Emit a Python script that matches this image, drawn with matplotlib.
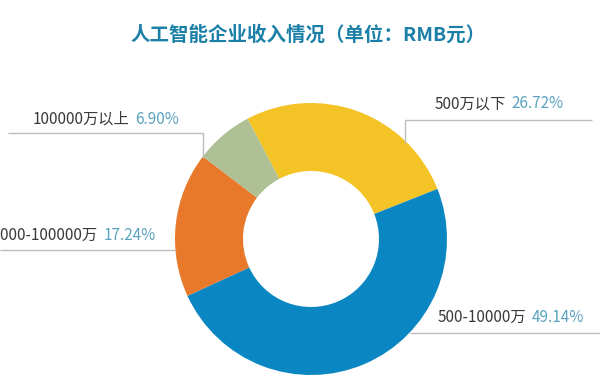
import matplotlib
matplotlib.use("Agg")
import matplotlib.pyplot as plt

plt.rcParams['font.family'] = ['Noto Sans CJK SC', 'DejaVu Sans']

title = "人工智能企业收入情况（单位：RMB元）"
categories = ["500万以下", "500-10000万", "10000-100000万", "100000万以上"]
shares = [26.72, 49.14, 17.24, 6.90]
colors = ["#F4C426", "#0A87C2", "#E8792B", "#AEC094"]

W, H = 600, 381
CX, CY, R = 311, 239, 136  # donut centre / radius in pixels

fig = plt.figure(figsize=(W / 100, H / 100), dpi=100)
ax = fig.add_axes([0, 0, 1, 1])

ax.pie(shares, colors=colors, startangle=117.8, counterclock=False,
       radius=1.0, wedgeprops=dict(width=0.5, edgecolor='none'))
ax.set_xlim(-CX / R, (W - CX) / R)
ax.set_ylim(-(H - CY) / R, CY / R)
ax.set_aspect('auto')
ax.axis('off')


def P(px, py):
    return ((px - CX) / R, (CY - py) / R)


line_kw = dict(color="#BDBDBD", lw=1.0, solid_capstyle='butt')

# leader lines (pixel paths)
paths = [
    [(405, 143), (405, 120), (592, 120)],
    [(410, 333), (600, 333)],
    [(176, 250), (0, 250)],
    [(203, 158), (203, 133), (8, 133)],
]
for path in paths:
    pts = [P(*p) for p in path]
    ax.plot([p[0] for p in pts], [p[1] for p in pts], **line_kw)

name_c = "#3A3A3A"
pct_c = "#5AA2BE"
fs = 11

# label placement: (pixel x, pixel y, anchor side)
label_pos = [(435, 104, 'left'), (438, 317, 'left'), (156, 235, 'right'), (33, 119, 'left')]

for cat, val, (px, py, side) in zip(categories, shares, label_pos):
    x, y = P(px, py)
    pct = f"{val:.2f}%"
    if side == 'left':
        t = ax.text(x, y, cat, ha='left', va='center', fontsize=fs, color=name_c)
        ax.annotate(pct, xy=(1, 0.5), xycoords=t, xytext=(4, 0),
                    textcoords='offset points', ha='left', va='center',
                    fontsize=fs, color=pct_c, fontweight='light')
    else:
        t = ax.text(x, y, pct, ha='right', va='center', fontsize=fs,
                    color=pct_c, fontweight='light')
        ax.annotate(cat, xy=(0, 0.5), xycoords=t, xytext=(-4, 0),
                    textcoords='offset points', ha='right', va='center',
                    fontsize=fs, color=name_c)

fig.text(308 / W, 1 - 35 / H, title, ha='center', va='center',
         fontsize=14, fontweight='bold', color="#1B80A8")

fig.savefig("out.png", dpi=100)
